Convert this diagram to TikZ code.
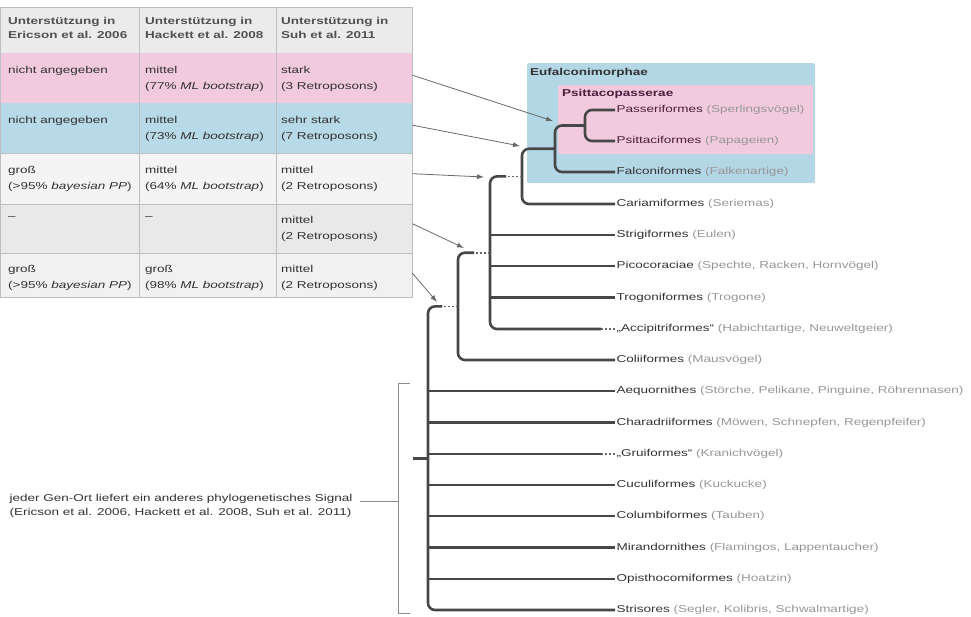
\documentclass[tikz,border=0pt]{standalone}
\usepackage{fontspec}
\setmainfont{Liberation Sans}[FakeStretch=1.35]
\usetikzlibrary{arrows.meta,positioning}

\definecolor{hdrgray}{RGB}{235,235,235}
\definecolor{rowpink}{RGB}{242,202,221}
\definecolor{rowblue}{RGB}{184,217,231}
\definecolor{rowlight}{RGB}{244,244,244}
\definecolor{rowmid}{RGB}{233,233,233}
\definecolor{rowlow}{RGB}{241,241,241}
\definecolor{tabline}{RGB}{190,190,190}
\definecolor{eufblue}{RGB}{180,215,230}
\definecolor{psipink}{RGB}{242,202,221}
\definecolor{txtdark}{RGB}{50,50,50}
\definecolor{txtlight}{RGB}{150,150,150}
\definecolor{psitext}{RGB}{75,30,60}
\definecolor{arrgray}{RGB}{105,105,105}

\newcommand{\vern}[1]{\textcolor{txtlight}{#1}}

\begin{document}
\begin{tikzpicture}[x=1pt,y=-1pt,>=Latex,
  font=\fontsize{10}{12}\selectfont,
  tabrow/.style={anchor=north west,inner sep=0pt,minimum width=412pt,fill=#1},
  cell/.style={anchor=north west,inner sep=0pt,align=left,text=txtdark,font=\fontsize{10}{16}\selectfont},
  headcell/.style={anchor=north west,inner sep=0pt,align=left,text=txtdark!85,font=\fontsize{10}{14.5}\selectfont\bfseries},
  leaf/.style={anchor=west,inner sep=1.5pt,text=txtdark},
  branch/.style={line width=2.6pt,draw=black!72,rounded corners=7pt},
  uncertain/.style={line width=1.6pt,draw=black!60,dash pattern=on 2pt off 2pt},
  pointer/.style={draw=arrgray,line width=0.8pt,-{Latex[length=7pt,width=5pt]}},
  bracket/.style={draw=black!45,line width=0.8pt},
  cladebox/.style={anchor=north west,inner sep=0pt,rounded corners=2pt,fill=#1},
  cladename/.style={anchor=west,inner sep=0pt,font=\fontsize{10}{12}\selectfont\bfseries}]
\useasboundingbox (0,0) rectangle (971,616);

% table of support values
\node[tabrow=hdrgray,minimum height=46pt] (head) at (0,7) {};
\node[tabrow=rowpink,minimum height=50pt] (row1) at (0,53) {};
\node[tabrow=rowblue,minimum height=50pt] (row2) at (0,103) {};
\node[tabrow=rowlight,minimum height=51pt] (row3) at (0,153) {};
\node[tabrow=rowmid,minimum height=49pt] (row4) at (0,204) {};
\node[tabrow=rowlow,minimum height=44pt] (row5) at (0,253) {};
\draw[tabline,line width=0.5pt] (row3.north west) -- (row3.north east) (row4.north west) -- (row4.north east) (row5.north west) -- (row5.north east);
\draw[tabline,line width=0.8pt] (head.north west) rectangle (row5.south east);
\draw[tabline,line width=0.8pt] (139,7) -- (139,297) (276,7) -- (276,297);

\node[headcell] (h1) at (8,17) {Unterstützung in\\Ericson et al. 2006};
\node[headcell] (h2) at (145,17) {Unterstützung in\\Hackett et al. 2008};
\node[headcell] (h3) at (281,17) {Unterstützung in\\Suh et al. 2011};

\node[cell] (c11) at (8,66) {nicht angegeben};
\node[cell] (c12) at (145,66) {mittel\\(77\% \textit{ML bootstrap})};
\node[cell] (c13) at (281,66) {stark\\(3 Retroposons)};
\node[cell] (c21) at (8,116) {nicht angegeben};
\node[cell] (c22) at (145,116) {mittel\\(73\% \textit{ML bootstrap})};
\node[cell] (c23) at (281,116) {sehr stark\\(7 Retroposons)};
\node[cell] (c31) at (8,166) {groß\\(>95\% \textit{bayesian PP})};
\node[cell] (c32) at (145,166) {mittel\\(64\% \textit{ML bootstrap})};
\node[cell] (c33) at (281,166) {mittel\\(2 Retroposons)};
\node[cell] (c41) at (8,216) {–};
\node[cell] (c42) at (145,216) {–};
\node[cell] (c43) at (281,216) {mittel\\(2 Retroposons)};
\node[cell] (c51) at (8,265) {groß\\(>95\% \textit{bayesian PP})};
\node[cell] (c52) at (145,265) {groß\\(98\% \textit{ML bootstrap})};
\node[cell] (c53) at (281,265) {mittel\\(2 Retroposons)};

% clade boxes
\node[cladebox=eufblue,minimum width=288pt,minimum height=120pt] (eufbox) at (527,63) {};
\node[cladebox=psipink,minimum width=255pt,minimum height=69pt] (psibox) at (558,85) {};
\node[cladename,text=txtdark] (eufname) at (530,73) {Eufalconimorphae};
\node[cladename,text=psitext] (psiname) at (562,94) {Psittacopasserae};

% leaves
\node[leaf,text=psitext] (pas) at (615,110) {Passeriformes \vern{(Sperlingsvögel)}};
\node[leaf,text=psitext] (psi) at (615,141) {Psittaciformes \vern{(Papageien)}};
\node[leaf] (fal) at (615,172) {Falconiformes \vern{(Falkenartige)}};
\node[leaf] (car) at (615,204) {Cariamiformes \vern{(Seriemas)}};
\node[leaf] (str) at (615,235) {Strigiformes \vern{(Eulen)}};
\node[leaf] (pic) at (615,266) {Picocoraciae \vern{(Spechte, Racken, Hornvögel)}};
\node[leaf] (tro) at (615,297.5) {Trogoniformes \vern{(Trogone)}};
\node[leaf] (acc) at (615,329) {„Accipitriformes“ \vern{(Habichtartige, Neuweltgeier)}};
\node[leaf] (col) at (615,360) {Coliiformes \vern{(Mausvögel)}};
\node[leaf] (aeq) at (615,391) {Aequornithes \vern{(Störche, Pelikane, Pinguine, Röhrennasen)}};
\node[leaf] (cha) at (615,422.5) {Charadriiformes \vern{(Möwen, Schnepfen, Regenpfeifer)}};
\node[leaf] (gru) at (615,454) {„Gruiformes“ \vern{(Kranichvögel)}};
\node[leaf] (cuc) at (615,485) {Cuculiformes \vern{(Kuckucke)}};
\node[leaf] (clb) at (615,516) {Columbiformes \vern{(Tauben)}};
\node[leaf] (mir) at (615,547.5) {Mirandornithes \vern{(Flamingos, Lappentaucher)}};
\node[leaf] (opi) at (615,579) {Opisthocomiformes \vern{(Hoatzin)}};
\node[leaf] (sti) at (615,610) {Strisores \vern{(Segler, Kolibris, Schwalmartige)}};

% inner nodes
\coordinate (psp) at (585,125.5);
\coordinate (euf) at (555,148.75);
\coordinate (eca) at (522,176.4);
\coordinate (aus) at (490,252.7);
\coordinate (tel) at (458,306.4);
\coordinate (neo) at (428,458.2);
\coordinate (root) at (413,458.2);
\coordinate (ecagap) at (506,176.4);
\coordinate (ausgap) at (474,252.7);
\coordinate (telgap) at (442,306.4);
\coordinate (accgap) at (601,329);
\coordinate (grugap) at (601,454);

\draw[branch] (pas.west) -| (psp) |- (psi.west);
\draw[branch] (psp) -| (euf) |- (fal.west);
\draw[branch] (euf) -| (eca) |- (car.west);
\draw[uncertain] (eca) -- (ecagap);
\draw[branch] (ecagap) -| (aus) |- (accgap);
\draw[uncertain] (accgap) -- (acc.west);
\draw[branch] (aus |- str.west) -- (str.west);
\draw[branch] (aus |- pic.west) -- (pic.west);
\draw[branch] (aus |- tro.west) -- (tro.west);
\draw[uncertain] (aus) -- (ausgap);
\draw[branch] (ausgap) -| (tel) |- (col.west);
\draw[uncertain] (tel) -- (telgap);
\draw[branch] (telgap) -| (neo) |- (sti.west);
\draw[branch] (root) -- (neo);
\draw[branch] (neo |- aeq.west) -- (aeq.west);
\draw[branch] (neo |- cha.west) -- (cha.west);
\draw[branch] (neo |- gru.west) -- (grugap);
\draw[uncertain] (grugap) -- (gru.west);
\draw[branch] (neo |- cuc.west) -- (cuc.west);
\draw[branch] (neo |- clb.west) -- (clb.west);
\draw[branch] (neo |- mir.west) -- (mir.west);
\draw[branch] (neo |- opi.west) -- (opi.west);

% pointers from table rows
\coordinate (tip1) at (553,121);
\coordinate (tip2) at (520,146);
\coordinate (tip3) at (484,177);
\coordinate (tip4) at (464,248);
\coordinate (tip5) at (437,302);
\draw[pointer] ([yshift=3pt]row1.east) -- (tip1);
\draw[pointer] ([yshift=3pt]row2.east) -- (tip2);
\draw[pointer] ([yshift=5pt]row3.east) -- (tip3);
\draw[pointer] ([yshift=5pt]row4.east) -- (tip4);
\draw[pointer] ([yshift=2pt]row5.east) -- (tip5);

% gene loci bracket
\coordinate (brtop) at (398,383);
\coordinate (brbot) at (398,613);
\coordinate (brmid) at (398,501);
\draw[bracket] ([xshift=12pt]brtop) -- (brtop) -- (brbot) -- ([xshift=12pt]brbot);
\node[anchor=west,align=left,text=txtdark,font=\fontsize{10}{14}\selectfont] (signal) at (6,506) {jeder Gen-Ort liefert ein anderes phylogenetisches Signal\\(Ericson et al. 2006, Hackett et al. 2008, Suh et al. 2011)};
\draw[bracket] ([xshift=4pt]signal.east |- brmid) -- (brmid);
\end{tikzpicture}
\end{document}
